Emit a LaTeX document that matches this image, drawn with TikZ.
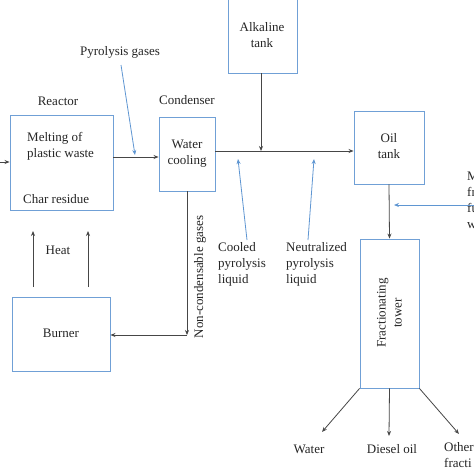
\documentclass[tikz,border=0pt]{standalone}
\usepackage{fontspec}
\setmainfont{Liberation Serif}
\usetikzlibrary{arrows.meta}
\definecolor{boxblue}{RGB}{112,160,214}
\definecolor{arrblue}{RGB}{95,150,210}
\definecolor{linegray}{RGB}{70,70,70}
\tikzset{
  unit/.style={draw=boxblue, line width=0.9pt, inner sep=0pt},
  lbl/.style={font=\fontsize{13}{16}\selectfont, text=black!85, inner sep=0pt, align=center},
  lbll/.style={font=\fontsize{13}{16}\selectfont, text=black!85, inner sep=0pt, align=left},
  flow/.style={draw=linegray, line width=0.8pt, -{Stealth[length=5pt,width=4pt]}},
  plain/.style={draw=linegray, line width=0.8pt},
  note/.style={draw=arrblue, line width=0.8pt, -{Stealth[length=5pt,width=4pt]}}
}
\begin{document}
\begin{tikzpicture}[x=1pt,y=-1pt]
\useasboundingbox (0,0) rectangle (474,474);
\clip (0,0) rectangle (474,474);
\fill[white] (0,0) rectangle (474,474);
% boxes
\node[unit, minimum width=103pt, minimum height=95pt] (reactor) at (61.5,162.5) {};
\node[unit, minimum width=56pt, minimum height=74pt] (cond) at (187,154) {};
\node[unit, minimum width=69pt, minimum height=83pt] (alk) at (262.5,31.5) {};
\node[unit, minimum width=70pt, minimum height=73pt] (oil) at (389,147.5) {};
\node[unit, minimum width=59pt, minimum height=149pt] (tower) at (389.5,313.5) {};
\node[unit, minimum width=98pt, minimum height=74pt] (burner) at (61,334) {};
% texts in boxes
\node[lbll, anchor=west] (melt) at (27,146) {Melting of\\plastic waste};
\node[lbll, anchor=west] (char) at (23,199) {Char residue};
\node[lbl] (condt) at (187,153.5) {Water\\cooling};
\node[lbl] (alkt) at (262,35) {Alkaline\\tank};
\node[lbl] (oilt) at (389,146) {Oil\\tank};
\node[lbl, rotate=90] (towert) at (389.5,313) {Fractionating\\tower};
\node[lbl] (burnert) at (61,333) {Burner};
% labels
\node[lbl] (reactorl) at (58,101) {Reactor};
\node[lbl] (condl) at (187,100) {Condenser};
\node[lbl] (pyro) at (120,52) {Pyrolysis gases};
\node[lbl] (heat) at (58,250) {Heat};
\node[lbll, anchor=north west] (cooled) at (218,242) {Cooled\\pyrolysis\\liquid};
\node[lbll, anchor=north west] (neutr) at (286,242) {Neutralized\\pyrolysis\\liquid};
\node[lbl, rotate=90] (noncond) at (200,277) {Non-condensable gases};
\node[lbll, anchor=north west] (mix) at (467,172) {M\\fr\\fu\\w};
\node[lbl] (water) at (309,449) {Water};
\node[lbl] (diesel) at (392,449) {Diesel oil};
\node[lbll, anchor=north west] (other) at (444,442) {Other\\fracti};
% coordinates
\coordinate (inL) at (0,162);
\coordinate (jL) at (215,151);
\coordinate (jA) at (261,151);
\coordinate (nc) at (187,335);
\coordinate (h1a) at (33,287); \coordinate (h1b) at (33,231);
\coordinate (h2a) at (88,287); \coordinate (h2b) at (88,231);
\coordinate (p1) at (121,65); \coordinate (p1t) at (135,155);
\coordinate (c1) at (247,240); \coordinate (c1t) at (238,159);
\coordinate (n1) at (308,240); \coordinate (n1t) at (314,159);
\coordinate (m1) at (474,205); \coordinate (m1t) at (394,205);
\coordinate (wt) at (322,432);
\coordinate (dt) at (389,436);
\coordinate (ot) at (459,434);
% flows
\draw[flow] (inL) -- (reactor.west |- inL);
\draw[flow] (reactor.east |- 0,157) -- (cond.west |- 0,157);
\draw[flow] (jL) -- (oil.west |- jL);
\draw[flow] (alk.south -| jA) -- (jA);
\draw[flow] (oil.south) -- (tower.north);
\draw[flow] (cond.south) -- (nc);
\draw[flow] (nc) -- (burner.east |- nc);
\draw[flow] (h1a) -- (h1b);
\draw[flow] (h2a) -- (h2b);
\draw[flow] (tower.south west) -- (wt);
\draw[flow] (tower.south) -- (dt);
\draw[flow] (tower.south east) -- (ot);
% notes
\draw[note] (p1) -- (p1t);
\draw[note] (c1) -- (c1t);
\draw[note] (n1) -- (n1t);
\draw[note] (m1) -- (m1t);
\end{tikzpicture}
\end{document}
